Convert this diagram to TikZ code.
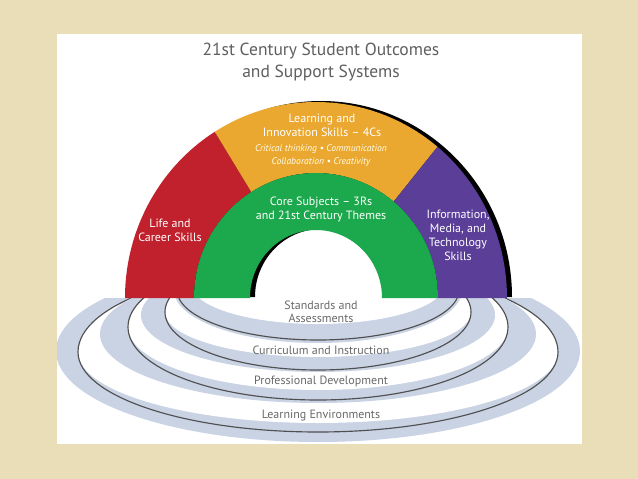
\documentclass[tikz,border=0pt]{standalone}
\usepackage{fontspec}
\setmainfont{PT Sans}
\definecolor{parch}{RGB}{233,222,183}
\definecolor{rbred}{RGB}{192,33,45}
\definecolor{rbyel}{RGB}{235,168,48}
\definecolor{rbgreen}{RGB}{28,168,76}
\definecolor{rbpurple}{RGB}{90,62,152}
\definecolor{ringfill}{RGB}{201,211,228}
\definecolor{ringline}{RGB}{80,80,80}
\definecolor{titlegray}{RGB}{95,95,95}
\definecolor{labelgray}{RGB}{105,105,105}
\begin{document}
\begin{tikzpicture}[x=1pt,y=-1pt,
  titletext/.style={inner sep=0pt,text=titlegray,font=\fontsize{17.5}{22}\selectfont},
  wlabel/.style={inner sep=0pt,text=white,align=center,font=\fontsize{12}{14}\selectfont},
  wsmall/.style={inner sep=0pt,text=white!92!yellow,align=center,font=\itshape\fontsize{9.6}{13}\selectfont},
  ringlabel/.style={inner sep=0pt,text=labelgray,align=center,font=\fontsize{12}{13}\selectfont},
  band/.style={fill=ringfill},
  rim/.style={draw=ringline,line width=1.15pt}]
\useasboundingbox (0,0) rectangle (638,479);
\fill[parch] (0,0) rectangle (638,479);
\fill[white] (57,34) rectangle (582,444);

% title
\node[titletext] (t1) at (321,51) {21st Century Student Outcomes};
\node[titletext] (t2) at (321,73) {and Support Systems};

% support-system rings
\begin{scope}
\clip (57,298) rectangle (582,444);
% band A (outermost)
\fill[band] (318,351) ellipse [x radius=262, y radius=91];
\fill[white] (558,352) arc[start angle=0,end angle=180,x radius=240,y radius=71]
   arc[start angle=180,end angle=360,x radius=240,y radius=86] -- cycle;
\draw[rim] (558,352) arc[start angle=0,end angle=180,x radius=240,y radius=80]
   arc[start angle=180,end angle=360,x radius=240,y radius=86];
% band B
\fill[band] (318,334) ellipse [x radius=218, y radius=69];
\fill[white] (508,327) arc[start angle=0,end angle=180,x radius=190,y radius=63]
   arc[start angle=180,end angle=360,x radius=190,y radius=73] -- cycle;
\draw[rim] (318,327) ellipse [x radius=190, y radius=73];
% band C
\fill[band] (318,315) ellipse [x radius=177, y radius=57];
\fill[white] (471,312) arc[start angle=0,end angle=180,x radius=153,y radius=45]
   arc[start angle=180,end angle=360,x radius=153,y radius=58] -- cycle;
\draw[rim] (318,312) ellipse [x radius=153, y radius=58];
% band D (innermost)
\fill[band] (318,290) ellipse [x radius=144, y radius=53];
\draw[rim] (318,290) ellipse [x radius=141, y radius=50];
\fill[white] (318,285) ellipse [x radius=126, y radius=39];
\end{scope}

% rainbow
\begin{scope}[shift={(316,298)}]
\fill[black,shift={(5,-1)}] (-191,0) arc[start angle=180,end angle=360,x radius=191,y radius=196]
   -- (66,0) arc[start angle=360,end angle=180,x radius=66,y radius=68] -- cycle;
\fill[rbred] (-191,0) arc[start angle=180,end angle=238,x radius=191,y radius=196]
   -- (238:122 and 125) arc[start angle=238,end angle=180,x radius=122,y radius=125] -- cycle;
\fill[rbyel] (238:191 and 196) arc[start angle=238,end angle=309.5,x radius=191,y radius=196]
   -- (309.5:122 and 125) arc[start angle=309.5,end angle=238,x radius=122,y radius=125] -- cycle;
\fill[rbpurple] (309.5:191 and 196) arc[start angle=309.5,end angle=360,x radius=191,y radius=196]
   -- (122,0) arc[start angle=360,end angle=309.5,x radius=122,y radius=125] -- cycle;
\fill[rbgreen] (-122,0) arc[start angle=180,end angle=360,x radius=122,y radius=125]
   -- (66,0) arc[start angle=360,end angle=180,x radius=66,y radius=68] -- cycle;
\end{scope}

% rainbow labels
\node[wlabel] (lis) at (322,125.5) {Learning and\\Innovation Skills -- 4Cs};
\node[wsmall] (fourc) at (321,155.5) {Critical thinking • Communication\\Collaboration • Creativity};
\node[wlabel] (core) at (321,209) {Core Subjects -- 3Rs\\and 21st Century Themes};
\node[wlabel] (life) at (170,230) {Life and\\Career Skills};
\node[wlabel] (imt) at (458,235) {Information,\\Media, and\\Technology\\Skills};

% ring labels
\node[ringlabel] (sa) at (321,311.5) {Standards and\\Assessments};
\node[ringlabel] (ci) at (321,350) {Curriculum and Instruction};
\node[ringlabel] (pd) at (321,381) {Professional Development};
\node[ringlabel] (le) at (321,416) {Learning Environments};
\end{tikzpicture}
\end{document}
